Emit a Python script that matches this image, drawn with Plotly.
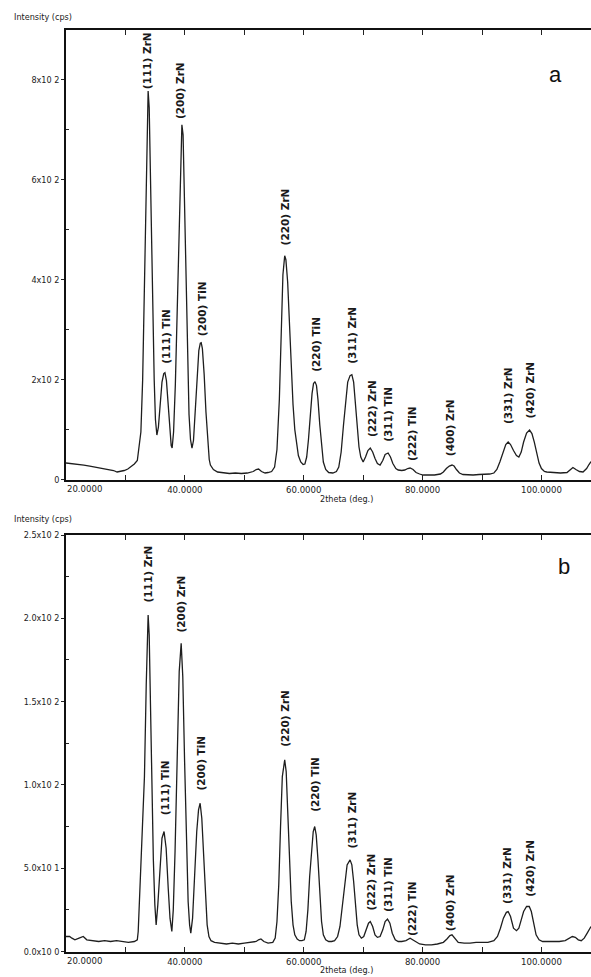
import plotly.graph_objects as go

# ---------------- data ----------------
two_theta_a = [20.0, 21.0, 22.0, 23.0, 24.0, 25.0, 26.0, 27.0, 28.0, 28.6, 29.2, 29.8, 30.4, 31.0, 31.5, 32.0,
               32.2, 32.6, 32.9, 33.2, 33.45, 33.65, 33.82, 34.0, 34.2, 34.45, 34.65, 34.84, 35.05, 35.29,
               35.55, 35.85, 36.15, 36.45, 36.65, 36.9, 37.15, 37.45, 37.7, 37.86,
               38.1, 38.4, 38.75, 39.05, 39.3, 39.5, 39.7, 39.95, 40.2, 40.45, 40.7, 40.95, 41.2,
               41.45, 41.75, 42.05, 42.35, 42.6, 42.75, 42.95, 43.25, 43.55, 43.85, 44.1, 44.3,
               44.8, 45.5, 46.5, 47.5, 48.5, 49.5, 50.5, 51.5, 52.0, 52.4, 52.9, 53.5, 54.0, 54.6,
               55.1, 55.5, 55.9, 56.2, 56.5, 56.8, 57.0, 57.3, 57.6, 57.9, 58.2, 58.5, 58.8, 59.1, 59.5, 59.9,
               60.2, 60.5, 60.8, 61.1, 61.4, 61.65, 61.9, 62.15, 62.4, 62.7, 63.0, 63.3, 63.7, 64.2, 64.9,
               65.5, 65.9, 66.3, 66.7, 67.05, 67.4, 67.8, 68.1, 68.4, 68.7, 69.0, 69.3, 69.6, 70.0,
               70.4, 70.8, 71.2, 71.6, 72.0, 72.4, 72.85, 73.3, 73.7, 74.2, 74.6, 75.0, 75.5, 75.9,
               76.5, 77.0, 77.5, 77.9, 78.4, 78.9, 79.5, 80.1, 81.0, 82.0, 83.0, 83.5, 84.0, 84.5, 84.95,
               85.3, 85.7, 86.2, 86.8, 87.5, 88.5, 89.5, 90.5, 91.3, 92.0, 92.5, 93.0, 93.5, 94.0, 94.4,
               94.8, 95.3, 95.8, 96.2, 96.6, 97.0, 97.5, 98.0, 98.4, 98.8, 99.2, 99.6, 100.0, 100.5, 100.9,
               102.0, 103.2, 104.3, 104.8, 105.3, 105.8, 106.4, 107.0, 107.6, 108.0, 108.34]
intensity_a = [33, 32, 30, 29, 27, 25, 23, 21, 18, 15, 16, 18, 21, 26, 31, 38,
               55, 95, 200, 390, 580, 730, 778, 745, 620, 400, 280, 200, 120, 89,
               105, 150, 195, 212, 214, 198, 150, 95, 68, 63,
               95, 190, 355, 540, 670, 710, 690, 560, 390, 240, 130, 80, 63,
               78, 140, 210, 258, 273, 274, 262, 210, 135, 70, 40, 29,
               20, 15, 13, 12, 13, 12, 13, 16, 20, 21, 16, 13, 14, 16,
               25, 60, 160, 300, 410, 448, 440, 395, 310, 220, 150, 100, 68, 48, 35, 30,
               31, 45, 80, 130, 172, 192, 196, 188, 160, 110, 65, 35, 20, 14, 13,
               16, 25, 55, 110, 160, 195, 208, 210, 195, 150, 100, 65, 45, 35,
               45, 58, 63, 55, 42, 32, 29, 38, 50, 53, 45, 32, 22, 19,
               18, 19, 22, 23, 20, 14, 11, 9, 9, 9, 11, 15, 22, 27, 29,
               27, 20, 13, 10, 9, 9, 10, 10, 11, 13, 20, 35, 55, 70, 75,
               70, 58, 48, 45, 55, 75, 93, 99, 92, 75, 52, 33, 22, 16, 15,
               14, 13, 14, 20, 24, 20, 16, 15, 22, 30, 36]

two_theta_b = [20.0, 20.6, 21.0, 21.5, 22.2, 22.9, 23.5, 24.5, 25.5, 26.5, 27.5, 28.5, 29.5, 30.5, 31.5, 32.0,
               32.15, 32.5, 32.85, 33.2, 33.5, 33.7, 33.82, 34.0, 34.2, 34.45, 34.7, 34.95, 35.17,
               35.45, 35.8, 36.15, 36.5, 36.85, 37.2, 37.5, 37.81,
               38.05, 38.35, 38.7, 39.05, 39.38, 39.65, 39.95, 40.25, 40.55, 40.8, 41.0,
               41.3, 41.65, 42.0, 42.3, 42.57, 42.85, 43.15, 43.45, 43.75, 44.05, 44.4,
               45.0, 46.0, 47.0, 48.0, 49.0, 50.0, 51.0, 52.0, 52.4, 52.8, 53.3, 54.0, 54.8,
               55.2, 55.5, 55.8, 56.1, 56.4, 56.8, 57.05, 57.3, 57.6, 57.9, 58.2, 58.5, 58.9, 59.3, 59.7,
               60.1, 60.4, 60.7, 61.0, 61.3, 61.6, 61.85, 62.1, 62.4, 62.7, 63.0, 63.3, 63.7, 64.2, 64.7,
               65.2, 65.7, 66.1, 66.5, 66.9, 67.3, 67.8, 68.1, 68.4, 68.7, 69.0, 69.3, 69.7,
               70.1, 70.5, 70.9, 71.2, 71.6, 72.0, 72.4, 72.85, 73.3, 73.7, 74.1, 74.5, 74.9,
               75.4, 75.9, 76.5, 77.2, 77.9, 78.4, 78.9, 79.5, 80.5, 81.5, 82.5, 83.5, 84.1, 84.6, 84.95,
               85.4, 86.0, 87.0, 88.0, 89.0, 90.0, 91.0, 92.0, 92.6, 93.1, 93.6, 94.1, 94.4,
               94.8, 95.3, 95.8, 96.2, 96.6, 97.0, 97.5, 97.95, 98.3, 98.7, 99.1, 99.6, 100.2,
               101.0, 102.0, 103.0, 104.0, 104.7, 105.2, 105.7, 106.2, 106.7, 107.2, 107.7, 108.0, 108.34]
intensity_b = [9, 9, 8, 7, 8, 9, 7, 6.5, 6, 6.5, 6, 6.5, 6, 5.5, 6, 7,
               12, 40, 70, 105, 160, 195, 202, 190, 150, 100, 55, 28, 16,
               28, 52, 68, 72, 62, 38, 20, 12,
               25, 60, 120, 168, 185, 165, 115, 65, 30, 16, 11,
               20, 48, 72, 85, 89, 80, 58, 33, 16, 9, 6.5,
               5.5, 5, 4.5, 5, 4.5, 5, 5.5, 6, 7, 7.5, 6, 5, 5.5,
               8, 18, 40, 75, 105, 115, 108, 85, 55, 30, 16, 10, 7.5, 6.5, 6.5,
               7, 12, 25, 45, 62, 72, 75, 70, 55, 33, 18, 10, 7, 6, 6,
               6.5, 9, 15, 28, 42, 52, 55, 52, 42, 28, 16, 10, 8,
               9, 13, 17, 18, 15, 10, 8.5, 9, 13, 18, 19.5, 17, 11,
               7, 6, 6, 6.5, 8, 7, 5.5, 4.5, 4, 4, 4.5, 5.5, 7.5, 9.5, 10,
               8, 5.5, 5, 5, 5.5, 5.5, 5.5, 6.5, 9, 14, 20, 23.5, 24,
               21, 14, 12.5, 14, 19, 24, 27, 27, 24, 17, 10, 7, 6,
               6, 6, 6, 6.5, 8, 9, 8.5, 7, 6.5, 8, 11, 13, 15]

peak_labels = ["(111) ZrN", "(111) TiN", "(200) ZrN", "(200) TiN", "(220) ZrN", "(220) TiN", "(311) ZrN",
               "(222) ZrN", "(311) TiN", "(222) TiN", "(400) ZrN", "(331) ZrN", "(420) ZrN"]
label_two_theta = [33.75, 36.69, 39.3, 42.8, 56.87, 61.92, 68.14, 71.4, 74.05, 78.15, 84.55, 94.3, 98.08]
label_base_a = [780, 229, 720, 285, 466, 213, 229, 83, 73, 35, 45, 109, 119]
label_base_b = [209, 81, 191, 96, 122, 83, 61, 24, 23, 8.7, 11.7, 28, 32]

x_tick_vals = [20, 30, 40, 50, 60, 70, 80, 90, 100]
x_tick_text = ["", "", "40.0000", "", "60.0000", "", "80.0000", "", "100.0000"]
y_tick_vals_a = [0, 200, 400, 600, 800]
y_tick_text_a = ["0", "2x10 2", "4x10 2", "6x10 2", "8x10 2"]
y_minor_a = [100, 300, 500, 700]
y_tick_vals_b = [0, 50, 100, 150, 200, 250]
y_tick_text_b = ["0.0x10 0", "5.0x10 1", "1.0x10 2", "1.5x10 2", "2.0x10 2", "2.5x10 2"]
y_minor_b = [25, 75, 125, 175, 225]

# ---------------- layout helpers ----------------
W, H, L = 591, 977, 66


def py(p):
    return 1 - p / H


def px(p):
    return (p - L) / (W - L)


narrow = "Liberation Sans Narrow, DejaVu Sans Condensed, Arial Narrow, sans-serif"
ink = "#1e1e1e"

fig = go.Figure()
fig.add_trace(go.Scatter(x=two_theta_a, y=intensity_a, mode="lines",
                         line=dict(color=ink, width=1.3), xaxis="x", yaxis="y", hoverinfo="skip"))
fig.add_trace(go.Scatter(x=two_theta_b, y=intensity_b, mode="lines",
                         line=dict(color=ink, width=1.3), xaxis="x2", yaxis="y2", hoverinfo="skip"))

xcommon = dict(range=[20, 108.34], tickmode="array", tickvals=x_tick_vals, ticktext=x_tick_text,
               ticks="inside", ticklen=5, tickwidth=1, tickcolor="#222", showline=True, linecolor="#111",
               linewidth=1.6, mirror="ticks", showgrid=False, zeroline=False,
               tickfont=dict(family=narrow, size=9.5, color="#222"))
ycommon = dict(tickmode="array", ticks="outside", ticklen=3, tickwidth=1, tickcolor="#222",
               showline=True, linecolor="#111", linewidth=1.6, showgrid=False, zeroline=False,
               tickfont=dict(family=narrow, size=9, color="#222"))

fig.update_layout(
    width=W, height=H, margin=dict(l=L, r=0, t=0, b=0, autoexpand=False),
    paper_bgcolor="white", plot_bgcolor="white", showlegend=False,
    xaxis=dict(domain=[0, 1], anchor="y", **xcommon),
    xaxis2=dict(domain=[0, 1], anchor="y2", **xcommon),
    yaxis=dict(domain=[py(479.5), py(30)], anchor="x", range=[0, 900], tickvals=y_tick_vals_a,
               ticktext=y_tick_text_a,
               minor=dict(tickvals=y_minor_a, ticks="inside", ticklen=3, tickcolor="#222"), **ycommon),
    yaxis2=dict(domain=[py(951.5), py(535)], anchor="x2", range=[0, 250], tickvals=y_tick_vals_b,
                ticktext=y_tick_text_b,
                minor=dict(tickvals=y_minor_b, ticks="inside", ticklen=3, tickcolor="#222"), **ycommon),
)

ann = []
for xr, yr, base, ybot, ytitle, yint, letter, lx, ly in [
        ("x", "y", label_base_a, 479.5, 499, 17, "a", 555, 75),
        ("x2", "y2", label_base_b, 951.5, 970, 519, "b", 564, 566)]:
    for txt, xv, yv in zip(peak_labels, label_two_theta, base):
        ann.append(dict(x=xv, y=yv, xref=xr, yref=yr, text=txt, textangle=-90, showarrow=False,
                        xanchor="center", yanchor="bottom", borderpad=0,
                        font=dict(family="DejaVu Sans", size=10.5, weight="bold", color="#1a1a1a")))
    ann.append(dict(x=20, y=py(ybot), xref=xr, yref="paper", text="20.0000", showarrow=False,
                    xanchor="left", yanchor="top", yshift=-2, borderpad=0,
                    font=dict(family=narrow, size=9.5, color="#222")))
    ann.append(dict(x=px(346), y=py(ytitle), xref="paper", yref="paper", text="2theta (deg.)",
                    showarrow=False, xanchor="center", yanchor="middle", borderpad=0,
                    font=dict(family=narrow, size=9, color="#222")))
    ann.append(dict(x=px(12), y=py(yint), xref="paper", yref="paper", text="Intensity (cps)",
                    showarrow=False, xanchor="left", yanchor="middle",
                    font=dict(family=narrow, size=9, color="#222")))
    ann.append(dict(x=px(lx), y=py(ly), xref="paper", yref="paper", text=letter,
                    showarrow=False, xanchor="center", yanchor="middle",
                    font=dict(family="Liberation Sans, Arial, sans-serif", size=22, color="#111")))

fig.update_layout(annotations=ann)
fig.write_html("out.html", config={"displayModeBar": False},
               post_script="document.body.style.margin='0';document.body.style.overflow='hidden';")
